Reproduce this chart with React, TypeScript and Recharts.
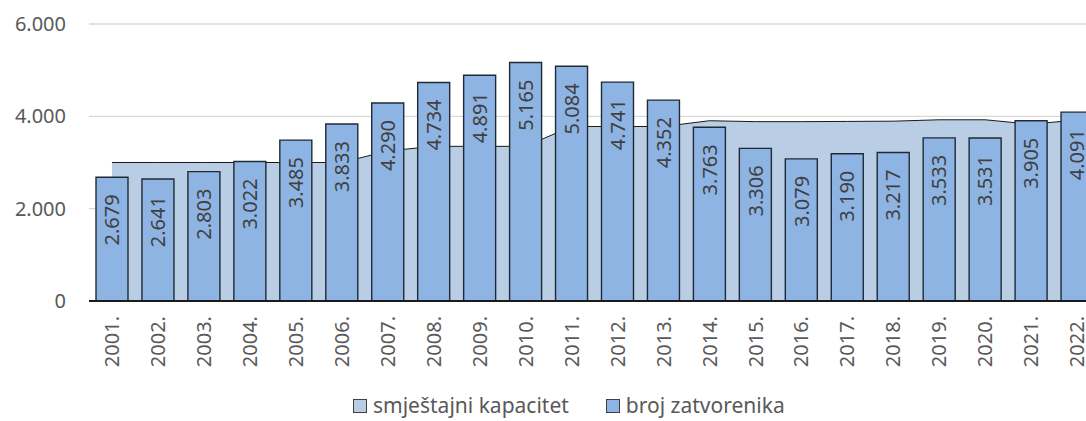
import React from "react";
import {
  ComposedChart,
  Bar,
  Area,
  XAxis,
  YAxis,
  CartesianGrid,
  Legend,
  LabelList,
} from "recharts";

const years = [
  "2001.", "2002.", "2003.", "2004.", "2005.", "2006.", "2007.", "2008.",
  "2009.", "2010.", "2011.", "2012.", "2013.", "2014.", "2015.", "2016.",
  "2017.", "2018.", "2019.", "2020.", "2021.", "2022.",
];

// broj zatvorenika
const prisoners = [
  2679, 2641, 2803, 3022, 3485, 3833, 4290, 4734, 4891, 5165, 5084, 4741,
  4352, 3763, 3306, 3079, 3190, 3217, 3533, 3531, 3905, 4091,
];

// smještajni kapacitet
const capacity = [
  3000, 3000, 3000, 3000, 3000, 3000, 3250, 3350, 3350, 3350, 3780, 3780,
  3780, 3905, 3885, 3885, 3890, 3895, 3925, 3925, 3830, 3920,
];

const yTicks = [0, 2000, 4000, 6000];

const AREA_FILL = "#B9CDE5";
const BAR_FILL = "#8EB4E3";
const TEXT = "#595959";
const FONT = "'Noto Sans', 'Open Sans', sans-serif";

const data = years.map((year, i) => ({
  year,
  zatvorenici: prisoners[i],
  kapacitet: capacity[i],
}));

const fmt = (v: number) =>
  String(Math.round(v)).replace(/\B(?=(\d{3})+(?!\d))/g, ".");

function YearTick({ x, y, payload }: any) {
  const ty = y + 15;
  return (
    <text
      x={x}
      y={ty}
      dy="0.36em"
      transform={`rotate(-90, ${x}, ${ty})`}
      textAnchor="end"
      fill={TEXT}
      fontSize={20}
      fontFamily={FONT}
    >
      {payload.value}
    </text>
  );
}

function BarLabel({ x, y, width, value }: any) {
  const cx = x + width / 2;
  const ty = y + 17;
  return (
    <text
      x={cx}
      y={ty}
      dy="0.36em"
      transform={`rotate(-90, ${cx}, ${ty})`}
      textAnchor="end"
      fill="#404040"
      fontSize={20}
      fontFamily={FONT}
    >
      {fmt(value)}
    </text>
  );
}

function LegendBox() {
  const item = (color: string, label: string, mr: number) => (
    <span style={{ display: "flex", alignItems: "center", marginRight: mr }}>
      <span
        style={{
          width: 12,
          height: 12,
          background: color,
          border: "1px solid #404040",
          marginRight: 6,
        }}
      />
      <span>{label}</span>
    </span>
  );
  return (
    <div
      style={{
        display: "flex",
        alignItems: "center",
        fontFamily: FONT,
        fontSize: 21,
        lineHeight: "21px",
        color: TEXT,
        whiteSpace: "nowrap",
      }}
    >
      {item(AREA_FILL, "smještajni kapacitet", 37)}
      {item(BAR_FILL, "broj zatvorenika", 0)}
    </div>
  );
}

export default function App() {
  return (
    <div
      style={{
        position: "absolute",
        left: 0,
        top: 0,
        width: 1086,
        height: 421,
        overflow: "hidden",
        background: "#fff",
      }}
    >
      <ComposedChart
        width={1120}
        height={421}
        data={data}
        margin={{ top: 24, right: 20, bottom: 0, left: 0 }}
      >
        <CartesianGrid vertical={false} stroke="#D9D9D9" strokeWidth={1.3} />
        <XAxis
          dataKey="year"
          interval={0}
          height={120}
          tickLine={false}
          tickSize={0}
          tickMargin={0}
          axisLine={{ stroke: "#1a1a1a", strokeWidth: 2 }}
          tick={<YearTick />}
        />
        <YAxis
          width={89}
          domain={[0, 6000]}
          ticks={yTicks}
          interval={0}
          axisLine={false}
          tickLine={false}
          tickSize={0}
          tickMargin={23}
          tickFormatter={fmt}
          tick={{ fill: TEXT, fontSize: 20, fontFamily: FONT }}
        />
        <Legend
          layout="horizontal"
          verticalAlign="middle"
          align="center"
          wrapperStyle={{ top: 395, left: 353, width: "auto" }}
          content={<LegendBox />}
        />
        <Area
          type="linear"
          dataKey="kapacitet"
          name="smještajni kapacitet"
          fill={AREA_FILL}
          fillOpacity={1}
          stroke="#1a1a1a"
          strokeWidth={1}
          dot={false}
          activeDot={false}
          isAnimationActive={false}
        />
        <Bar
          dataKey="zatvorenici"
          name="broj zatvorenika"
          fill={BAR_FILL}
          stroke="#1f2a36"
          strokeWidth={1.4}
          barSize={32}
          isAnimationActive={false}
        >
          <LabelList dataKey="zatvorenici" content={<BarLabel />} />
        </Bar>
      </ComposedChart>
    </div>
  );
}
